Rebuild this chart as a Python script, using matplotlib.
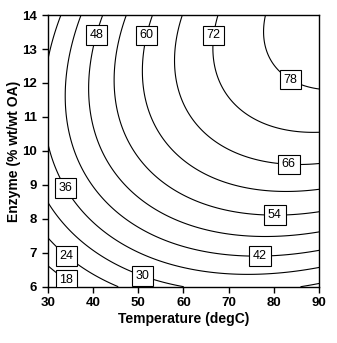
import numpy as np
import matplotlib
matplotlib.use("Agg")
import matplotlib.pyplot as plt

plt.rcParams["font.family"] = ["Liberation Sans", "DejaVu Sans"]

# second-order response model: yield = b0 + b1*T + b2*E + b11*T^2 + b22*E^2 + b12*T*E
coef_names = ["b0", "b1", "b2", "b11", "b22", "b12"]
coef_values = [-93.91, 1.075, 16.751, -0.0103, -0.825, 0.0713]

temp_range = [30, 90]
enzyme_range = [6, 14]
levels = [18, 24, 30, 36, 42, 48, 54, 60, 66, 72, 78]
x_ticks = [30, 40, 50, 60, 70, 80, 90]
y_ticks = [6, 7, 8, 9, 10, 11, 12, 13, 14]

# where each contour label sits (T, E)
label_spots = [(34.3, 6.23), (34.3, 6.93), (51.1, 6.37), (33.6, 8.88),
               (76.9, 7.0), (40.9, 13.41), (80.2, 8.15), (51.7, 13.41),
               (83.3, 9.7), (66.3, 13.41), (83.0, 11.95)]

b = dict(zip(coef_names, coef_values))
T, E = np.meshgrid(np.linspace(*temp_range, 301), np.linspace(*enzyme_range, 301))
Z = (b["b0"] + b["b1"] * T + b["b2"] * E + b["b11"] * T ** 2
     + b["b22"] * E ** 2 + b["b12"] * T * E)

fig = plt.figure(figsize=(3.37, 3.43), dpi=100)
ax = fig.add_axes([0.1415, 0.1641, 0.806, 0.792])

cs = ax.contour(T, E, Z, levels=levels, colors="black", linewidths=0.8)
labels = ax.clabel(cs, inline=False, fontsize=9, fmt="%d", manual=label_spots)
for t in labels:
    t.set_rotation(0)
    t.set_bbox(dict(boxstyle="square,pad=0.3", facecolor="white",
                    edgecolor="black", linewidth=0.8))

ax.set_xlim(temp_range)
ax.set_ylim(enzyme_range)
ax.set_xticks(x_ticks)
ax.set_yticks(y_ticks)
ax.tick_params(direction="out", length=4, width=1, labelsize=9.5,
               top=False, right=False)
for lab in ax.get_xticklabels() + ax.get_yticklabels():
    lab.set_fontweight("bold")
for s in ax.spines.values():
    s.set_linewidth(1.0)

ax.set_xlabel("Temperature (degC)", fontsize=10, fontweight="bold", labelpad=2)
ax.set_ylabel("Enzyme (% wt/wt OA)", fontsize=10, fontweight="bold", labelpad=1)

fig.savefig("out.png", dpi=100)
